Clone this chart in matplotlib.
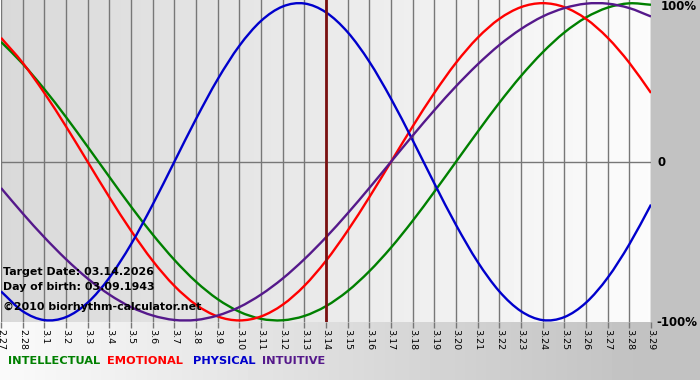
import numpy as np
import matplotlib
matplotlib.use('Agg')
import matplotlib.pyplot as plt
from matplotlib.path import Path
from matplotlib.patches import PathPatch

days = ['2.27', '2.28'] + ['3.%d' % d for d in range(1, 30)]

# daily values (fraction of 100%)
physical = [-0.817, -0.942, -0.998, -0.979, -0.888, -0.731, -0.520, -0.270, 0.0, 0.270,
            0.520, 0.731, 0.888, 0.979, 0.998, 0.942, 0.817, 0.631, 0.398, 0.136,
            -0.136, -0.398, -0.631, -0.817, -0.942, -0.998, -0.979, -0.888, -0.731, -0.520,
            -0.270]
emotional = [0.782, 0.624, 0.434, 0.223, 0.0, -0.223, -0.434, -0.624, -0.782, -0.901,
             -0.975, -1.0, -0.975, -0.901, -0.782, -0.624, -0.434, -0.223, 0.0, 0.223,
             0.434, 0.624, 0.782, 0.901, 0.975, 1.0, 0.975, 0.901, 0.782, 0.624,
             0.434]
intellectual = [0.756, 0.618, 0.458, 0.282, 0.095, -0.095, -0.282, -0.458, -0.618, -0.756,
                -0.866, -0.945, -0.990, -0.999, -0.972, -0.910, -0.815, -0.690, -0.541, -0.372,
                -0.189, 0.0, 0.189, 0.372, 0.541, 0.690, 0.815, 0.910, 0.972, 0.999,
                0.990]
intuitive = [-0.165, -0.325, -0.476, -0.614, -0.736, -0.837, -0.916, -0.969, -0.997, -0.997,
             -0.969, -0.916, -0.837, -0.736, -0.614, -0.476, -0.325, -0.165, 0.0, 0.165,
             0.325, 0.476, 0.614, 0.736, 0.837, 0.916, 0.969, 0.997, 0.997, 0.969,
             0.916]

target_day = '3.14'
info_lines = ['Target Date: 03.14.2026', 'Day of birth: 03.09.1943', '\u00a92010 biorhythm-calculator.net']

series = [
    ('INTELLECTUAL', intellectual, '#008000'),
    ('EMOTIONAL', emotional, '#ff0000'),
    ('PHYSICAL', physical, '#0000cc'),
    ('INTUITIVE', intuitive, '#55198b'),
]


def smooth_path(xs, ys):
    # catmull-rom through the daily points, drawn as cubic bezier segments
    xs = np.asarray(xs, float)
    ys = np.asarray(ys, float)
    pts = np.column_stack([xs, ys])
    ext = np.vstack([2 * pts[0] - pts[1], pts, 2 * pts[-1] - pts[-2]])
    verts = [pts[0]]
    codes = [Path.MOVETO]
    for i in range(1, len(ext) - 2):
        p0, p1, p2, p3 = ext[i - 1], ext[i], ext[i + 1], ext[i + 2]
        verts += [p1 + (p2 - p0) / 6, p2 - (p3 - p1) / 6, p2]
        codes += [Path.CURVE4] * 3
    return Path(verts, codes)


W, H = 700, 380
fig = plt.figure(figsize=(W / 100, H / 100), dpi=100)

# page background gradient
bg = fig.add_axes([0, 0, 1, 1], zorder=-10)
gx = np.linspace(0, 1, 200)
grad = np.clip(0.98 - 0.24 * gx, 0.76, 1)
bg.imshow(np.tile(grad, (10, 1)), cmap='gray', vmin=0, vmax=1, aspect='auto',
          extent=[0, 1, 0, 1])
bg.set_xlim(0, 1)
bg.set_ylim(0, 1)
bg.axis('off')

ax = fig.add_axes([1 / W, 1 - 322 / H, 650 / W, 322 / H])
ax.set_facecolor('none')
n = len(days)
x = np.arange(n)
ax.set_xlim(0, n - 1)
ax.set_ylim(-1.01, 1.02)

# plot area gradient (gray on the left to white on the right)
pg = np.linspace(0.85, 0.985, 200)
ax.imshow(np.tile(pg, (10, 1)), cmap='gray', vmin=0, vmax=1, aspect='auto',
          extent=[0, 1, 0, 1], transform=ax.transAxes, zorder=0)

for xi in x:
    ax.axvline(xi, color='#777777', lw=1.0, zorder=1)
ax.axhline(0, color='#777777', lw=1.0, zorder=1)

for name, vals, col in series:
    ax.add_patch(PathPatch(smooth_path(x, vals), facecolor='none', edgecolor=col,
                           lw=1.7, zorder=3))

ax.axvline(days.index(target_day), color='#7a1010', lw=2.0, zorder=4)

for s in ax.spines.values():
    s.set_visible(False)
ax.set_yticks([])
ax.set_xticks(x)
ax.set_xticklabels(days, rotation=-90, fontsize=6.8)
ax.tick_params(axis='x', length=4, color='#777777', width=1.0, pad=1)

fig.text(661 / W, 1 - 7 / H, '100%', fontsize=8.5, fontweight='bold', va='center', ha='left')
fig.text(657 / W, 1 - 162 / H, '0', fontsize=8.5, fontweight='bold', va='center', ha='left')
fig.text(656 / W, 1 - 322 / H, '-100%', fontsize=8.5, fontweight='bold', va='center', ha='left')

for line, yy in zip(info_lines, [272, 287, 307]):
    fig.text(3 / W, 1 - yy / H, line, fontsize=7.9, fontweight='bold', va='center', ha='left',
             zorder=5)

lx = [8, 107, 193, 262]
for (name, vals, col), px in zip(series, lx):
    fig.text(px / W, 1 - 361 / H, name, fontsize=8.2, fontweight='bold', color=col,
             va='center', ha='left')

fig.savefig('out.png', dpi=100)
